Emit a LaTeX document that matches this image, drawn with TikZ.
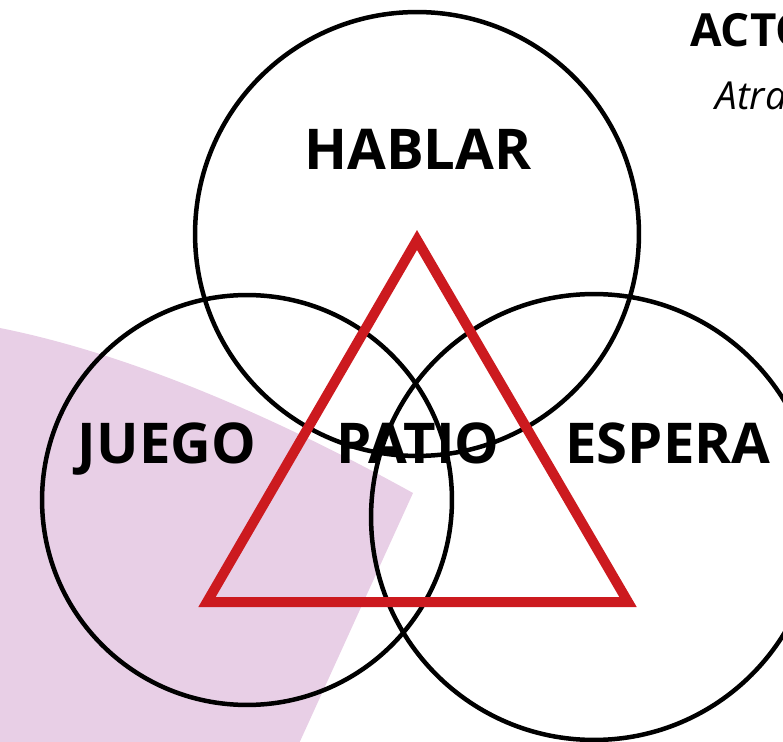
\documentclass[tikz,border=0pt]{standalone}
\usepackage{fontspec}
\setmainfont{Open Sans}
\usetikzlibrary{positioning}
\definecolor{lila}{RGB}{232,207,230}
\definecolor{rojo}{RGB}{204,26,31}
\tikzset{
    ring/.style={circle, draw=black, line width=0.09cm, minimum size=#1, inner sep=0pt},
    tri/.style={draw=rojo, line width=0.2cm, line join=miter},
    lbl/.style={font=\fontsize{32}{36}\selectfont\bfseries, anchor=base, inner sep=0pt},
}

\begin{document}
\begin{tikzpicture}[x=0.02cm, y=-0.02cm]
    \useasboundingbox (0,0) rectangle (783,742);
    \clip (0,0) rectangle (783,742);

    % background wedge
    \fill[lila] (-10,326) -- (0,328) .. controls (140,356) and (290,425) .. (413,493)
        -- (287,770) -- (-10,770) -- cycle;

    \node[ring=8.88cm] (hablarc) at (417,234) {};
    \node[ring=8.2cm] (juegoc) at (247,500) {};
    \node[ring=8.92cm] (esperac) at (594,517) {};

    \coordinate (t1) at (417,240);
    \coordinate (t2) at (207,602);
    \coordinate (t3) at (628,602);
    \draw[tri] (t1) -- (t2) -- (t3) -- cycle;

    \node[lbl] (hablar) at (418,170) {HABLAR};
    \node[lbl] (juego) at (167,463) {JUEGO};
    \node[lbl] (patio) at (418,463) {PATIO};
    \node[lbl] (espera) at (668,463) {ESPERA};

    % cut off texts at the edges
    \node[anchor=base west, inner sep=0pt, font=\fontsize{26}{30}\selectfont\bfseries] (acto) at (690,47) {ACTO};
    \node[anchor=base west, inner sep=0pt, font=\fontsize{22}{26}\selectfont\itshape] (atra) at (715,110) {Atra};
    \node[lbl] (pie) at (426,796) {Á};
\end{tikzpicture}
\end{document}
